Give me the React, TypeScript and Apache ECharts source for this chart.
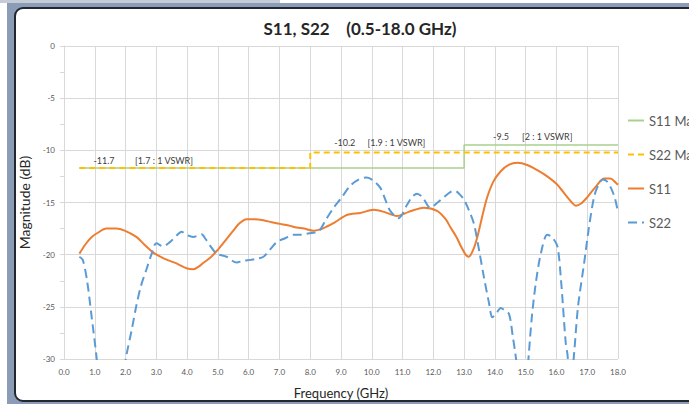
import React, { useEffect, useRef } from "react";
import * as echarts from "echarts";

const title = "S11, S22    (0.5-18.0 GHz)";
const xTicks = [0, 18];

const s11MaxFreq = [0.5, 13, 13, 18];
const s11MaxDb = [-11.7, -11.7, -9.5, -9.5];
const s22MaxFreq = [0.5, 8, 8, 18];
const s22MaxDb = [-11.7, -11.7, -10.2, -10.2];

const s11Freq = [0.5, 0.7, 0.9, 1.1, 1.37, 1.7, 1.97, 2.35, 2.6, 2.9, 3.2, 3.44, 3.7, 3.98, 4.2, 4.4, 4.52, 4.75, 4.96, 5.2, 5.5, 5.7, 5.93, 6.2, 6.48, 6.75, 7.02, 7.3, 7.56, 7.8, 8.1, 8.3, 8.54, 8.8, 9.19, 9.63, 10.06, 10.4, 10.82, 11.2, 11.69, 12.12, 12.4, 12.56, 12.75, 12.88, 13.05, 13.15, 13.3, 13.43, 13.6, 13.75, 13.95, 14.19, 14.45, 14.73, 15.05, 15.38, 15.7, 16.03, 16.3, 16.5, 16.63, 16.8, 17.0, 17.3, 17.55, 17.75, 17.93, 18.0];
const s11Db = [-19.9, -19.0, -18.3, -17.9, -17.5, -17.5, -17.7, -18.3, -19.0, -19.8, -20.3, -20.6, -20.9, -21.3, -21.4, -21.1, -20.8, -20.3, -19.65, -18.8, -17.7, -17.0, -16.6, -16.6, -16.7, -16.9, -17.05, -17.2, -17.4, -17.5, -17.7, -17.6, -17.3, -16.9, -16.2, -16.0, -15.7, -15.9, -16.3, -15.9, -15.5, -15.8, -16.6, -17.4, -18.3, -19.1, -20.0, -20.2, -19.5, -18.3, -16.2, -14.5, -13.0, -12.0, -11.4, -11.2, -11.4, -11.9, -12.5, -13.3, -14.3, -15.0, -15.3, -15.1, -14.5, -13.4, -12.7, -12.7, -13.1, -13.3];

const s22Freq = [0.5, 0.61, 0.75, 0.9, 1.05, 1.1, 1.5, 1.95, 2.03, 2.2, 2.35, 2.5, 2.68, 2.85, 3.0, 3.22, 3.44, 3.65, 3.82, 3.98, 4.2, 4.47, 4.6, 4.74, 4.96, 5.28, 5.61, 5.8, 6.04, 6.25, 6.48, 6.7, 6.91, 7.2, 7.45, 7.7, 7.89, 8.1, 8.27, 8.5, 8.76, 9.0, 9.3, 9.57, 9.84, 10.05, 10.28, 10.45, 10.6, 10.87, 11.15, 11.3, 11.47, 11.65, 11.9, 12.1, 12.34, 12.55, 12.72, 12.85, 12.99, 13.15, 13.32, 13.5, 13.64, 13.8, 13.92, 14.05, 14.19, 14.3, 14.46, 14.58, 14.67, 14.75, 14.9, 15.05, 15.1, 15.2, 15.33, 15.5, 15.7, 15.85, 16.03, 16.15, 16.3, 16.36, 16.45, 16.57, 16.7, 16.9, 17.05, 17.22, 17.35, 17.5, 17.65, 17.77, 17.9, 17.99];
const s22Db = [-20.2, -20.5, -22.5, -26.0, -29.6, -31, -38, -31, -29.6, -27.2, -24.9, -23.0, -21.4, -19.9, -18.9, -19.2, -18.8, -18.2, -17.8, -18.1, -18.3, -18.05, -18.5, -19.1, -19.9, -20.2, -20.75, -20.6, -20.5, -20.4, -20.2, -19.5, -18.8, -18.4, -18.1, -18.1, -18.0, -17.9, -17.8, -16.7, -15.5, -14.6, -13.4, -12.8, -12.6, -12.9, -13.6, -14.8, -15.8, -16.5, -15.2, -14.5, -14.15, -14.5, -15.5, -15.1, -14.5, -14.0, -13.9, -14.2, -14.7, -15.7, -17.05, -19.8, -22.1, -24.5, -26.0, -25.6, -25.1, -25.3, -25.7, -27.8, -29.6, -31.5, -36, -31.5, -29.6, -26.0, -22.7, -19.8, -18.1, -18.3, -19.2, -22.5, -28.4, -29.6, -33, -29.6, -25.0, -20.8, -17.5, -14.5, -13.4, -12.8, -13.0, -13.6, -14.6, -15.8];

const annotationText = ["-11.7", "[1.7 : 1 VSWR]", "-10.2", "[1.9 : 1 VSWR]", "-9.5", "[2 : 1 VSWR]"];
const annotationFreq = [1.3, 3.25, 9.12, 10.8, 14.2, 15.7];
const annotationDb = [-10.94, -10.94, -9.25, -9.25, -8.68, -8.68];

const FONT = "Lato, 'Open Sans', sans-serif";

const zip = (xs: number[], ys: number[]) => xs.map((x, i) => [x, ys[i]]);

export default function App() {
  const ref = useRef<HTMLDivElement>(null);
  useEffect(() => {
    document.body.style.margin = "0";
    const chart = echarts.init(ref.current!, null, { renderer: "svg" });
    chart.setOption({
      animation: false,
      title: {
        text: title,
        left: 355,
        textAlign: "center",
        top: 15,
        textStyle: { fontFamily: FONT, fontSize: 17, fontWeight: "bold", color: "#262626" },
      },
      legend: {
        orient: "vertical",
        left: 622,
        top: 109,
        itemWidth: 16,
        itemHeight: 2,
        itemGap: 21,
        itemStyle: { opacity: 0 },
        textStyle: { fontFamily: FONT, fontSize: 13, color: "#595959" },
        data: ["S11 Max", "S22 Max", "S11", "S22"],
      },
      grid: { left: 64, right: 71, top: 46, bottom: 40 },
      xAxis: {
        type: "value",
        min: xTicks[0],
        max: xTicks[1],
        interval: 1,
        name: "Frequency (GHz)",
        nameLocation: "middle",
        nameGap: 27,
        nameTextStyle: { fontFamily: FONT, fontSize: 13, color: "#262626" },
        axisLine: { show: true, lineStyle: { color: "#d9d9d9" } },
        axisTick: { show: false },
        axisLabel: {
          fontFamily: FONT,
          fontSize: 8,
          color: "#595959",
          margin: 9,
          formatter: (v: number) => v.toFixed(1),
        },
        splitLine: { show: true, lineStyle: { color: "#d9d9d9", width: 1 } },
      },
      yAxis: {
        type: "value",
        min: -30,
        max: 0,
        interval: 5,
        name: "Magnitude (dB)",
        nameLocation: "middle",
        nameGap: 28,
        nameRotate: 90,
        nameTextStyle: { fontFamily: FONT, fontSize: 14, color: "#262626" },
        axisLine: { show: true, lineStyle: { color: "#d9d9d9" } },
        axisTick: { show: true, length: 4, lineStyle: { color: "#d9d9d9" } },
        minorTick: { show: true, splitNumber: 2, length: 4, lineStyle: { color: "#d9d9d9" } },
        axisLabel: { fontFamily: FONT, fontSize: 8, color: "#595959", margin: 9 },
        splitLine: { show: true, lineStyle: { color: "#d9d9d9", width: 1 } },
      },
      series: [
        {
          name: "S11 Max",
          type: "line",
          data: zip(s11MaxFreq, s11MaxDb),
          symbol: "none",
          lineStyle: { color: "#a9d18e", width: 1.5 },
          itemStyle: { color: "#a9d18e" },
          markPoint: {
            symbol: "circle",
            symbolSize: 0,
            itemStyle: { color: "transparent" },
            label: {
              show: true,
              position: "inside",
              fontFamily: FONT,
              fontSize: 9,
              color: "#404040",
              formatter: (p: any) => p.name,
            },
            data: annotationText.map((t, i) => ({ name: t, coord: [annotationFreq[i], annotationDb[i]] })),
          },
        },
        {
          name: "S22 Max",
          type: "line",
          data: zip(s22MaxFreq, s22MaxDb),
          symbol: "none",
          lineStyle: { color: "#ffc000", width: 2, type: [6, 4] },
          itemStyle: { color: "#ffc000" },
        },
        {
          name: "S11",
          type: "line",
          data: zip(s11Freq, s11Db),
          symbol: "none",
          smooth: 0.3,
          clip: true,
          lineStyle: { color: "#ed7d31", width: 2 },
          itemStyle: { color: "#ed7d31" },
        },
        {
          name: "S22",
          type: "line",
          data: zip(s22Freq, s22Db),
          symbol: "none",
          smooth: 0.3,
          clip: true,
          lineStyle: { color: "#5b9bd5", width: 2, type: [9, 5] },
          itemStyle: { color: "#5b9bd5" },
        },
      ],
    });
    return () => chart.dispose();
  }, []);

  return (
    <div style={{ position: "fixed", left: 0, top: 0, width: 689, height: 404, background: "#fff", overflow: "hidden" }}>
      <div style={{ position: "absolute", left: 0, top: 0, width: 280, height: 3, background: "#c5ccd8" }} />
      <div style={{ position: "absolute", left: 7, top: 3, right: 0, bottom: 0, background: "#8a9cb6" }} />
      <div
        style={{
          position: "absolute",
          left: 14,
          top: 7,
          width: 700,
          height: 391,
          background: "#fff",
          border: "2px solid #23272f",
          borderRadius: 9,
        }}
      />
      <div ref={ref} style={{ position: "absolute", left: 0, top: 0, width: 689, height: 404 }} />
    </div>
  );
}
